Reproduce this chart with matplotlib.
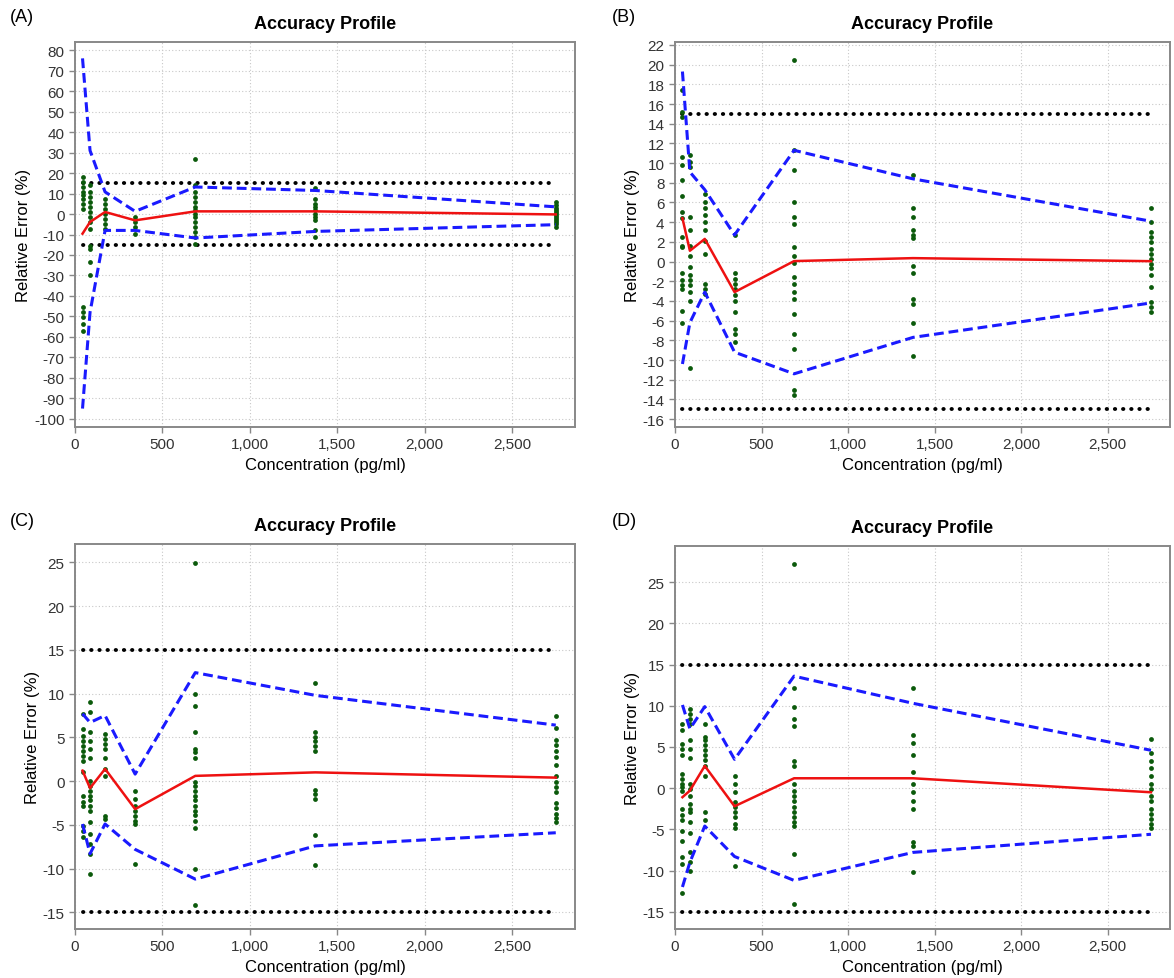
import matplotlib
matplotlib.use("Agg")
import matplotlib.pyplot as plt
from matplotlib.ticker import FuncFormatter, MultipleLocator

plt.rcParams['font.family'] = ['Liberation Sans', 'DejaVu Sans']
plt.rcParams['axes.unicode_minus'] = False

# concentraciones (pg/ml)
conc = [43, 86, 172, 344, 688, 1375, 2750]
limites = [-15, 15]

# ---- panel A ----
a_upper = [76, 31, 10.8, 1.3, 13.2, 11.5, 3.5]
a_mean = [-9.6, -3.9, 1.0, -3.1, 1.3, 1.3, -0.2]
a_lower = [-95, -48, -8, -8, -11.7, -8.5, -5.2]
a_dots = [
    [18.1, 15.6, 13.2, 10.8, 9.1, 7.5, 5.1, 2.6, -45.5, -47.9, -50.4, -53.6, -56.9],
    [14, 10.7, 8.3, 5.8, 3.4, 0.9, -1.5, -4, -7.2, -15.4, -17, -23.6, -30],
    [7.5, 5.1, 2.6, 0.2, -2.3, -4.7, -7.2],
    [-1.5, -4, -6.4, -9.6],
    [26.7, 14, 10.7, 8.3, 5.8, 3.4, 1.8, 0.2, -1.5, -4, -6.4, -8.9, -11.3, -14.5],
    [12.7, 7.5, 5.0, 3.4, 1.8, 0.1, -1.5, -3.1, -8.0, -11.2],
    [5.9, 4.5, 3, 2, 1, 0, -1, -2, -3, -4, -5, -6.4],
]

# ---- panel B ----
b_upper = [19.3, 9.1, 7.3, 2.7, 11.3, 8.4, 4.1]
b_mean = [4.4, 1.1, 2.3, -3.1, 0.05, 0.35, 0.04]
b_lower = [-10.4, -6.2, -3.1, -9.2, -11.4, -7.7, -4.2]
b_dots = [
    [17.4, 15.2, 14.7, 10.6, 9.8, 8.3, 6.7, 5.0, 4.4, 2.5, 1.6, 1.5, -1.2, -1.9, -2.4, -2.8, -5.0, -6.2],
    [10.8, 10.1, 9.6, 4.5, 3.2, 1.6, 0.6, -0.6, -1.4, -1.9, -2.4, -3.1, -4.0, -10.8],
    [6.9, 6.1, 5.4, 4.7, 4.0, 3.2, 2.1, 0.8, -2.3, -2.8, -3.3],
    [2.7, -1.2, -1.8, -2.3, -2.8, -3.4, -4.0, -5.1, -6.8, -7.4, -8.2],
    [20.5, 11.3, 9.3, 6.1, 4.5, 3.8, 1.5, 0.6, -0.1, -1.6, -2.3, -3.1, -3.8, -5.3, -7.4, -8.9, -13.0, -13.5],
    [8.8, 5.4, 4.5, 3.2, 2.7, 2.4, -0.4, -1.2, -3.8, -4.3, -6.2, -9.6],
    [5.4, 4.0, 3.0, 2.5, 2.0, 1.3, 0.8, 0.3, -0.2, -0.7, -1.4, -2.6, -4.1, -4.6, -5.1],
]

# ---- panel C ----
c_upper = [7.7, 6.7, 7.5, 0.8, 12.4, 9.8, 6.4]
c_mean = [1.2, -0.8, 1.4, -3.2, 0.6, 1.0, 0.4]
c_lower = [-4.9, -8.3, -4.9, -7.8, -11.2, -7.4, -5.9]
c_dots = [
    [7.7, 6.0, 5.2, 4.6, 4.0, 3.5, 2.9, 2.3, 1.0, -1.7, -2.4, -2.8, -5.1, -5.7, -6.4],
    [9.0, 7.9, 5.6, 4.6, 3.7, 2.7, 0.0, -0.5, -1.1, -1.7, -2.2, -2.8, -3.4, -4.7, -6.0, -7.2, -8.3, -10.6],
    [5.4, 4.8, 4.2, 3.7, 2.6, 1.4, 0.6, -4.0, -4.3],
    [-1.1, -2.0, -2.8, -3.4, -4.0, -4.5, -4.9, -9.5],
    [24.9, 10.0, 8.6, 5.6, 3.7, 3.3, 2.7, -0.1, -0.5, -1.1, -1.7, -2.2, -2.8, -3.4, -3.9, -4.5, -5.3, -10.0, -14.2],
    [11.2, 5.6, 5.1, 4.6, 4.0, 3.5, -1.0, -1.5, -2.0, -6.2, -9.6],
    [7.5, 6.1, 4.7, 4.1, 3.5, 2.8, 1.8, 0.6, -0.1, -0.7, -1.2, -2.5, -3.1, -3.7, -4.2, -4.7],
]

# ---- panel D ----
d_upper = [10.1, 7.2, 9.9, 3.5, 13.6, 10.3, 4.6]
d_mean = [-1.1, -0.3, 2.7, -2.2, 1.2, 1.2, -0.5]
d_lower = [-12.0, -9.0, -4.6, -8.3, -11.2, -7.8, -5.6]
d_dots = [
    [7.8, 7.0, 5.4, 4.8, 4.0, 1.7, 1.1, 0.5, 0.1, -0.3, -2.5, -3.3, -3.9, -5.2, -6.4, -8.3, -9.2, -12.7],
    [9.6, 9.0, 8.4, 7.8, 5.8, 4.8, 3.7, 0.5, -0.1, -0.9, -1.9, -2.5, -2.9, -4.1, -5.4, -7.8, -9.0, -10.0],
    [7.8, 6.2, 5.8, 5.2, 4.6, 4.0, 3.4, 2.7, 1.5, -2.9, -3.9],
    [1.5, 0.5, -0.5, -1.7, -2.3, -2.9, -3.5, -4.4, -4.8, -9.4],
    [27.2, 12.2, 9.8, 8.4, 7.6, 3.3, 2.7, 0.5, -0.3, -0.9, -1.5, -2.3, -2.9, -3.5, -4.1, -4.6, -8.0, -14.1],
    [12.2, 6.5, 5.5, 4.0, 2.0, 0.5, -0.5, -1.5, -2.5, -6.5, -7.0, -10.2],
    [6.0, 4.3, 3.3, 2.5, 1.5, 0.5, -0.1, -0.9, -1.5, -2.5, -3.1, -3.7, -4.3, -4.8],
]


def dibujar_panel(ax, upper, mean, lower, dots, ylim, ystep):
    # limites de aceptacion
    for lim in limites:
        ax.plot([conc[0], conc[-1]], [lim, lim], color='black', lw=2.8,
                linestyle=(0, (0.1, 2.0)), dash_capstyle='round', zorder=3)
    # puntos
    for c, vals in zip(conc, dots):
        ax.scatter([c] * len(vals), vals, s=12, color='#0b5a0b', zorder=4, linewidths=0)
    ax.plot(conc, upper, color='#1a1aff', lw=2.2, linestyle=(0, (3.2, 1.6)), zorder=5)
    ax.plot(conc, lower, color='#1a1aff', lw=2.2, linestyle=(0, (3.2, 1.6)), zorder=5)
    ax.plot(conc, mean, color='#ee1111', lw=1.8, zorder=6)

    ax.set_xlim(0, 2860)
    ax.set_ylim(*ylim)
    ax.xaxis.set_major_locator(MultipleLocator(500))
    ax.yaxis.set_major_locator(MultipleLocator(ystep))
    ax.xaxis.set_major_formatter(FuncFormatter(lambda v, p: f"{v:,.0f}"))
    ax.grid(True, color='#c8c8c8', linestyle=(0, (1, 2)), lw=0.8)
    ax.set_axisbelow(True)
    for s in ax.spines.values():
        s.set_color('#888888')
        s.set_linewidth(1.4)
    ax.tick_params(colors='#333333', labelsize=11, length=4, width=1, direction='out')
    ax.tick_params(axis='both', color='#888888')
    ax.set_title("Accuracy Profile", fontsize=13, fontweight='bold', pad=10)
    ax.set_xlabel("Concentration (pg/ml)", fontsize=12, labelpad=4)
    ax.set_ylabel("Relative Error (%)", fontsize=12, labelpad=2)


fig = plt.figure(figsize=(11.74, 9.79), dpi=100)
W, H = 1174, 979
posiciones = {
    'A': (75, 43, 575, 428),
    'B': (675, 43, 1170, 428),
    'C': (75, 545, 575, 930),
    'D': (675, 547, 1170, 930),
}
paneles = {
    'A': (a_upper, a_mean, a_lower, a_dots, (-104, 84), 10),
    'B': (b_upper, b_mean, b_lower, b_dots, (-16.8, 22.3), 2),
    'C': (c_upper, c_mean, c_lower, c_dots, (-16.9, 27.1), 5),
    'D': (d_upper, d_mean, d_lower, d_dots, (-17.1, 29.4), 5),
}

for nombre, (x0, y0, x1, y1) in posiciones.items():
    ax = fig.add_axes([x0 / W, 1 - y1 / H, (x1 - x0) / W, (y1 - y0) / H])
    dibujar_panel(ax, *paneles[nombre])
    lx = 10 if nombre in 'AC' else 612
    ly = 18 if nombre in 'AB' else 522
    fig.text(lx / W, 1 - ly / H, f"({nombre})", fontsize=13, ha='left', va='center')

plt.savefig("out.png", dpi=100)
plt.close()
